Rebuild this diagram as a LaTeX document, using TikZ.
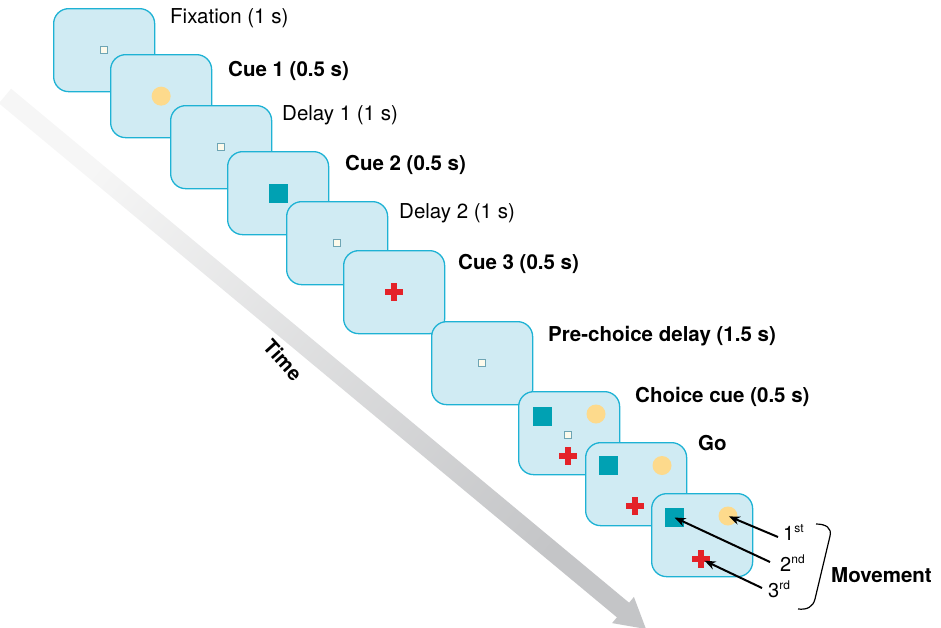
\documentclass[tikz,border=0pt]{standalone}
\usepackage{fontspec}
\setmainfont{TeX Gyre Heros}
\usetikzlibrary{arrows.meta,calc}
\definecolor{scrfill}{RGB}{208,235,243}
\definecolor{scrline}{RGB}{30,178,212}
\definecolor{fixfill}{RGB}{253,250,235}
\definecolor{fixline}{RGB}{110,165,180}
\definecolor{cueyel}{RGB}{253,218,140}
\definecolor{cueteal}{RGB}{0,161,179}
\definecolor{cuered}{RGB}{228,34,40}
\definecolor{timegray}{RGB}{196,197,199}
\definecolor{timelight}{RGB}{246,246,246}
\begin{document}
\begin{tikzpicture}[x=1pt,y=-1pt,
 screen/.style={draw=scrline, fill=scrfill, line width=1.3pt, rounded corners=15pt, minimum width=101pt, minimum height=83pt, anchor=north west, inner sep=0pt},
 fixpt/.style={draw=fixline, fill=fixfill, line width=1pt, minimum size=7pt, inner sep=0pt},
 ycirc/.style={circle, fill=cueyel, minimum size=19pt, inner sep=0pt},
 tsq/.style={fill=cueteal, minimum size=19pt, inner sep=0pt},
 hbar/.style={fill=cuered, minimum width=18pt, minimum height=6pt, inner sep=0pt},
 vbar/.style={fill=cuered, minimum width=6pt, minimum height=18pt, inner sep=0pt},
 lbl/.style={anchor=west, inner sep=0pt, font=\fontsize{20.5}{24}\selectfont},
 blbl/.style={anchor=west, inner sep=0pt, font=\fontsize{20.5}{24}\selectfont\bfseries},
 ord/.style={anchor=base west, inner sep=0pt, font=\fontsize{20}{24}\selectfont},
 mv/.style={line width=2pt, -{Stealth[length=11pt,width=8.5pt]}},
]
\useasboundingbox (0,0) rectangle (941,627);
% time arrow
\shade[top color=timelight, bottom color=timegray, shading angle=50.2]
  (-1.1,103.3) -- (616.9,617.3) -- (612.1,623.1) -- (646,629) -- (633.9,596.9) -- (629.1,602.7) -- (11.1,88.7) -- cycle;
\node[font=\fontsize{20}{24}\selectfont\bfseries, rotate=-48, inner sep=0pt] (time) at (283,360) {Time};
% screens
\node[screen] (s1) at (53,8) {};
\node[fixpt] (f1) at (s1.center) {};
\node[screen] (s2) at (110,54) {};
\node[ycirc] (y2) at (s2.center) {};
\node[screen] (s3) at (170,105) {};
\node[fixpt] (f3) at (s3.center) {};
\node[screen] (s4) at (227,151) {};
\node[tsq] (t4) at (s4.center) {};
\node[screen] (s5) at (286,201) {};
\node[fixpt] (f5) at (s5.center) {};
\node[screen] (s6) at (343,250) {};
\node[hbar] (h6) at (s6.center) {};
\node[vbar] (v6) at (s6.center) {};
\node[screen] (s7) at (431,321) {};
\node[fixpt] (f7) at (s7.center) {};
\node[screen] (s8) at (518,391) {};
\node[tsq] (t8) at ($(s8.north west)+(24,25)$) {};
\node[ycirc] (y8) at ($(s8.north west)+(78,23)$) {};
\node[fixpt] (f8) at ($(s8.north west)+(50,44)$) {};
\node[hbar] (h8) at ($(s8.north west)+(50,65)$) {};
\node[vbar] (v8) at (h8.center) {};
\node[screen] (s9) at (585,442) {};
\node[tsq] (t9) at ($(s9.north west)+(23.5,23.5)$) {};
\node[ycirc] (y9) at ($(s9.north west)+(77,23.5)$) {};
\node[hbar] (h9) at ($(s9.north west)+(50,64)$) {};
\node[vbar] (v9) at (h9.center) {};
\node[screen] (s10) at (651,493) {};
\node[tsq] (t10) at ($(s10.north west)+(23.5,24.5)$) {};
\node[ycirc] (y10) at ($(s10.north west)+(77,23)$) {};
\node[hbar] (h10) at ($(s10.north west)+(50,66)$) {};
\node[vbar] (v10) at (h10.center) {};
% labels
\node[lbl] (l1) at (170,18) {Fixation (1 s)};
\node[blbl] (l2) at (228,71) {Cue 1 (0.5 s)};
\node[lbl] (l3) at (282,115) {Delay 1 (1 s)};
\node[blbl] (l4) at (345,165) {Cue 2 (0.5 s)};
\node[lbl] (l5) at (399,213) {Delay 2 (1 s)};
\node[blbl] (l6) at (458,264) {Cue 3 (0.5 s)};
\node[blbl] (l7) at (548,336) {Pre-choice delay (1.5 s)};
\node[blbl] (l8) at (635,397) {Choice cue (0.5 s)};
\node[blbl] (l9) at (698,443) {Go};
% movement order
\node[ord] (o1) at (783,540) {1\raisebox{8pt}{\fontsize{12}{12}\selectfont st}};
\node[ord] (o2) at (780,571) {2\raisebox{8pt}{\fontsize{12}{12}\selectfont nd}};
\node[ord] (o3) at (768,597) {3\raisebox{8pt}{\fontsize{12}{12}\selectfont rd}};
\coordinate (a1) at (778,537);
\coordinate (a2) at (770,562);
\coordinate (a3) at (762,588);
\draw[mv, shorten >=1pt] (a1) -- (y10.center);
\draw[mv] (a2) -- (t10.center);
\draw[mv, shorten >=4pt] (a3) -- (h10.center);
\draw[line width=1.2pt] (816,524) .. controls (826,524) and (832,528) .. (830,536) -- (815,599) .. controls (813,607) and (807,610) .. (798,609);
\node[blbl] (mvt) at (831,575) {Movement};
\end{tikzpicture}
\end{document}
